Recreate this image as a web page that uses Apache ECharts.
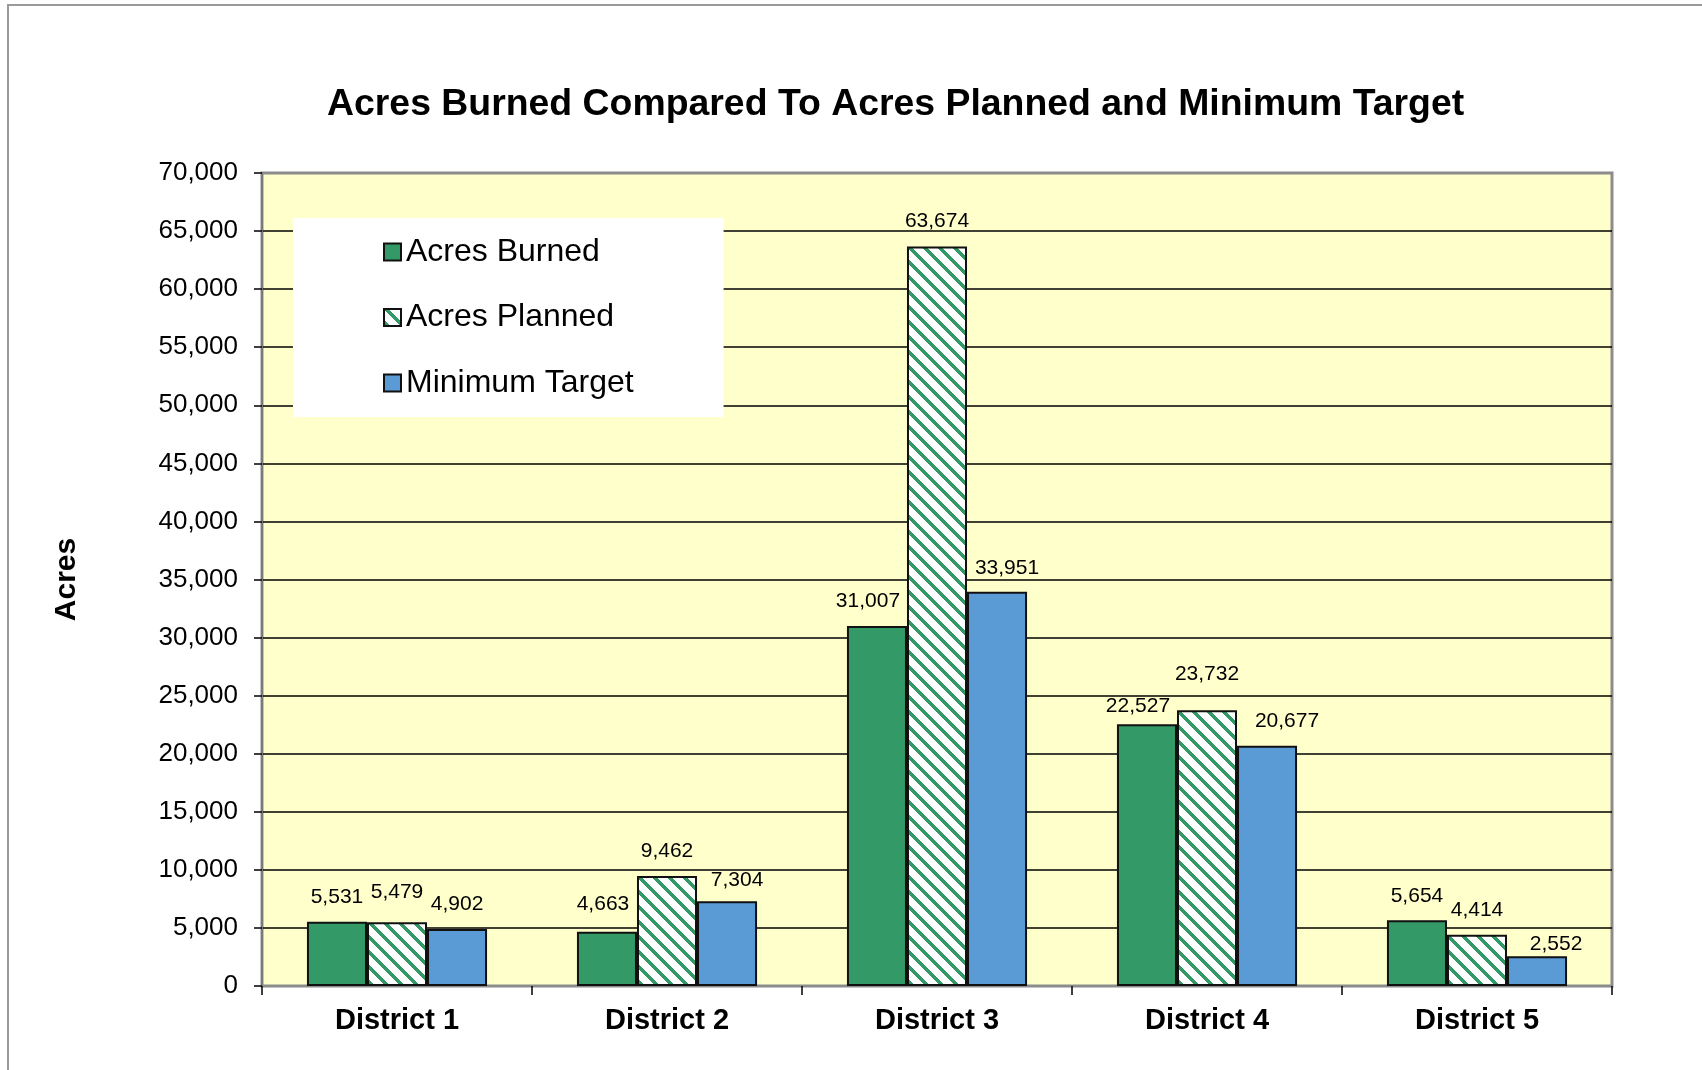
<!DOCTYPE html>
<html>
<head>
<meta charset="utf-8">
<title>Acres Burned Compared To Acres Planned and Minimum Target</title>
<script src="https://cdn.jsdelivr.net/npm/echarts@6/dist/echarts.min.js"></script>
<style>
  html, body { margin: 0; padding: 0; background: #fff; }
  #chart { width: 1702px; height: 1070px; }
</style>
</head>
<body>
<div id="chart"></div>
<script>
// data
const districts = ['District 1', 'District 2', 'District 3', 'District 4', 'District 5'];
const acresBurned = [5531, 4663, 31007, 22527, 5654];
const acresPlanned = [5479, 9462, 63674, 23732, 4414];
const minimumTarget = [4902, 7304, 33951, 20677, 2552];

// label nudges [dx, dy] (the original had some labels moved by hand)
const burnedNudge = [[0, 0], [-4, -3], [-9, 0], [-9, 6], [0, 0]];
const plannedNudge = [[0, -6], [0, 0], [0, -1], [0, -12], [0, 0]];
const targetNudge = [[0, 0], [10, 4], [10, 1], [20, 0], [19, 12]];

const FONT = 'Liberation Sans, Arial, Helvetica, sans-serif';
const GREEN = '#339966';
const BLUE = '#5B9BD5';

// diagonal hatch "\\\\" for acres planned
function makeHatch() {
  const p = 15, t = 5;
  const c = document.createElement('canvas');
  c.width = p; c.height = p;
  const ctx = c.getContext('2d');
  ctx.fillStyle = '#ffffff';
  ctx.fillRect(0, 0, p, p);
  ctx.fillStyle = GREEN;
  for (let y = 0; y < p; y++) {
    for (let x = 0; x < p; x++) {
      if ((((x - y) % p) + p) % p < t) ctx.fillRect(x, y, 1, 1);
    }
  }
  return c;
}

const withNudge = (values, nudge) => values.map((v, i) => ({
  value: v,
  label: { offset: nudge[i] }
}));

const chart = echarts.init(document.getElementById('chart'));

const barLabel = {
  show: true,
  position: 'top',
  distance: 14,
  color: '#000',
  fontFamily: FONT,
  fontSize: 21,
  formatter: (p) => p.value.toLocaleString('en-US')
};

const barBase = {
  type: 'bar',
  barGap: '0%',
  barCategoryGap: '33.3%',
  label: barLabel,
  emphasis: { disabled: true }
};

const option = {
  animation: false,
  backgroundColor: '#ffffff',
  textStyle: { fontFamily: FONT },
  title: {
    text: 'Acres Burned Compared To Acres Planned and Minimum Target',
    left: 327,
    top: 86,
    padding: 0,
    textStyle: { fontFamily: FONT, fontSize: 37.4, fontWeight: 'bold', color: '#000' }
  },
  graphic: [{
    type: 'rect',
    shape: { x: 8, y: 5, width: 1800, height: 1200 },
    style: { fill: 'none', stroke: '#9a9a9a', lineWidth: 2 },
    silent: true,
    z: -10
  }],
  legend: {
    orient: 'vertical',
    left: 293,
    top: 218,
    padding: [18, 90, 18, 90],
    backgroundColor: '#ffffff',
    itemWidth: 17,
    itemHeight: 17,
    itemGap: 33.5,
    icon: 'rect',
    textStyle: { fontFamily: FONT, fontSize: 32, lineHeight: 32, color: '#000' },
    data: ['Acres Burned', 'Acres Planned', 'Minimum Target']
  },
  grid: {
    left: 262,
    right: 90,
    top: 173,
    bottom: 84,
    show: true,
    backgroundColor: '#FFFFCC',
    borderColor: '#8c8c8c',
    borderWidth: 3
  },
  xAxis: {
    type: 'category',
    data: districts,
    axisLine: { lineStyle: { color: '#8c8c8c', width: 2 } },
    axisTick: { show: true, length: 9, lineStyle: { color: '#000', width: 1.5 } },
    axisLabel: {
      margin: 20,
      color: '#000',
      fontFamily: FONT,
      fontSize: 29,
      fontWeight: 'bold'
    }
  },
  yAxis: {
    type: 'value',
    min: 0,
    max: 70000,
    interval: 5000,
    name: 'Acres',
    nameLocation: 'middle',
    nameGap: 180,
    nameTextStyle: { fontFamily: FONT, fontSize: 30, fontWeight: 'bold', color: '#000' },
    axisLine: { show: true, lineStyle: { color: '#7a7a7a', width: 2 } },
    axisTick: { show: true, length: 8, lineStyle: { color: '#000', width: 1.5 } },
    axisLabel: {
      margin: 24,
      color: '#000',
      fontFamily: FONT,
      fontSize: 26,
      formatter: (v) => v.toLocaleString('en-US')
    },
    splitLine: {
      show: true,
      showMinLine: false,
      showMaxLine: false,
      lineStyle: { color: '#000', width: 1.5 }
    }
  },
  series: [
    Object.assign({}, barBase, {
      name: 'Acres Burned',
      data: withNudge(acresBurned, burnedNudge),
      itemStyle: { color: GREEN, borderColor: '#111', borderWidth: 2 }
    }),
    Object.assign({}, barBase, {
      name: 'Acres Planned',
      data: withNudge(acresPlanned, plannedNudge),
      itemStyle: { color: { image: makeHatch(), repeat: 'repeat' }, borderColor: '#111', borderWidth: 2 }
    }),
    Object.assign({}, barBase, {
      name: 'Minimum Target',
      data: withNudge(minimumTarget, targetNudge),
      itemStyle: { color: BLUE, borderColor: '#111', borderWidth: 2 }
    })
  ]
};

chart.setOption(option);

window.addEventListener('resize', () => chart.resize());
</script>
</body>
</html>
